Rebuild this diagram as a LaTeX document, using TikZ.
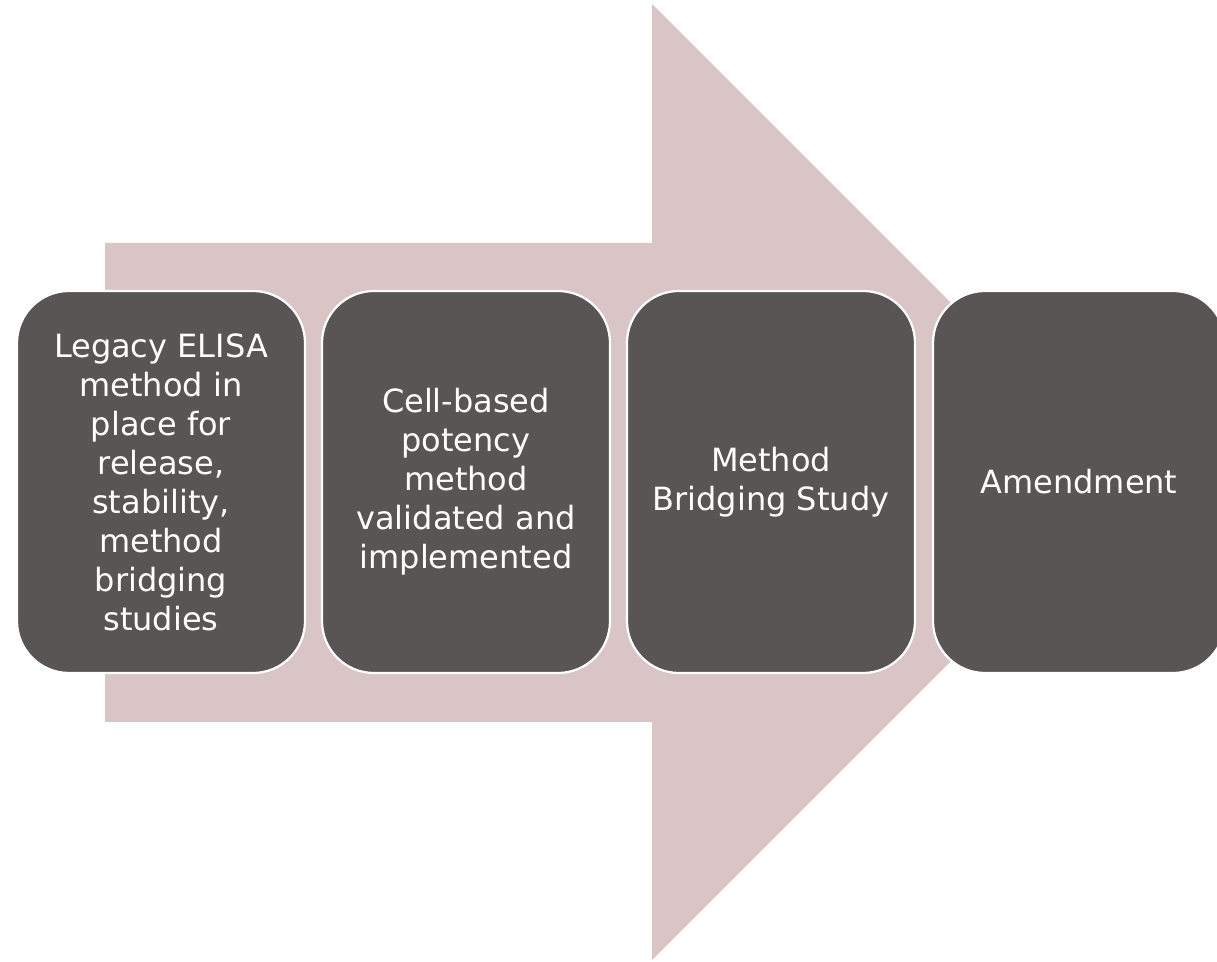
\documentclass[tikz,border=0pt]{standalone}
\usepackage{fontspec}
\setmainfont{DejaVu Sans}
\definecolor{arrowpink}{RGB}{217,197,197}
\definecolor{boxgray}{RGB}{89,85,84}
\begin{document}
\begin{tikzpicture}[x=1pt,y=1pt,
  stagebox/.style={draw=white, line width=2.2pt, fill=boxgray, rounded corners=52pt,
    minimum width=288pt, minimum height=382pt, text=white, align=center,
    font=\fontsize{32}{39}\selectfont, inner sep=0pt}]
\useasboundingbox (0,0) rectangle (1217,961);
% big arrow (y flipped: y_tikz = 961 - y_img)
\fill[arrowpink] (105,718) -- (652,718) -- (652,957) -- (1130,479) -- (652,1) -- (652,239) -- (105,239) -- cycle;
% stage boxes
\node[stagebox] (s1) at (161,479) {Legacy ELISA\\method in\\place for\\release,\\stability,\\method\\bridging\\studies};
\node[stagebox] (s2) at (466,479) {Cell-based\\potency\\method\\validated and\\implemented};
\node[stagebox] (s3) at (771,479) {Method\\Bridging Study};
\node[stagebox, minimum width=292pt] (s4) at (1079,479) {Amendment};
\end{tikzpicture}
\end{document}
